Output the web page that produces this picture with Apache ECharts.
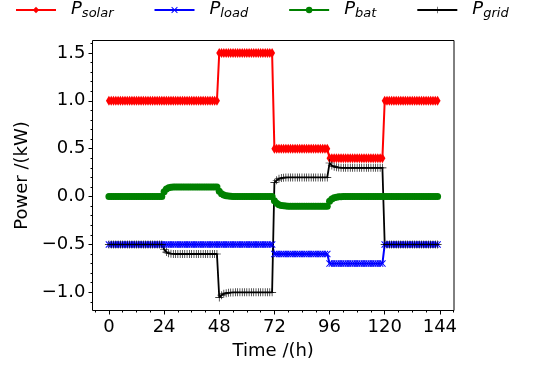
<!DOCTYPE html>
<html>
<head>
<meta charset="utf-8">
<script src="https://cdn.jsdelivr.net/npm/echarts@6/dist/echarts.min.js"></script>
<style>
  html, body { margin: 0; padding: 0; background: #fff; }
  #chart { width: 540px; height: 369px; }
</style>
</head>
<body>
<div id="chart"></div>
<script>
// Hourly power flows over six days (kW), one value per hour 0..143
const solar = [
  1.0,1.0,1.0,1.0,1.0,1.0,1.0,1.0,1.0,1.0,1.0,1.0,1.0,1.0,1.0,1.0,1.0,1.0,1.0,1.0,1.0,1.0,1.0,1.0,
  1.0,1.0,1.0,1.0,1.0,1.0,1.0,1.0,1.0,1.0,1.0,1.0,1.0,1.0,1.0,1.0,1.0,1.0,1.0,1.0,1.0,1.0,1.0,1.0,
  1.5,1.5,1.5,1.5,1.5,1.5,1.5,1.5,1.5,1.5,1.5,1.5,1.5,1.5,1.5,1.5,1.5,1.5,1.5,1.5,1.5,1.5,1.5,1.5,
  0.5,0.5,0.5,0.5,0.5,0.5,0.5,0.5,0.5,0.5,0.5,0.5,0.5,0.5,0.5,0.5,0.5,0.5,0.5,0.5,0.5,0.5,0.5,0.5,
  0.4,0.4,0.4,0.4,0.4,0.4,0.4,0.4,0.4,0.4,0.4,0.4,0.4,0.4,0.4,0.4,0.4,0.4,0.4,0.4,0.4,0.4,0.4,0.4,
  1.0,1.0,1.0,1.0,1.0,1.0,1.0,1.0,1.0,1.0,1.0,1.0,1.0,1.0,1.0,1.0,1.0,1.0,1.0,1.0,1.0,1.0,1.0,1.0
];
const load = [
  -0.5,-0.5,-0.5,-0.5,-0.5,-0.5,-0.5,-0.5,-0.5,-0.5,-0.5,-0.5,-0.5,-0.5,-0.5,-0.5,-0.5,-0.5,-0.5,-0.5,-0.5,-0.5,-0.5,-0.5,
  -0.5,-0.5,-0.5,-0.5,-0.5,-0.5,-0.5,-0.5,-0.5,-0.5,-0.5,-0.5,-0.5,-0.5,-0.5,-0.5,-0.5,-0.5,-0.5,-0.5,-0.5,-0.5,-0.5,-0.5,
  -0.5,-0.5,-0.5,-0.5,-0.5,-0.5,-0.5,-0.5,-0.5,-0.5,-0.5,-0.5,-0.5,-0.5,-0.5,-0.5,-0.5,-0.5,-0.5,-0.5,-0.5,-0.5,-0.5,-0.5,
  -0.6,-0.6,-0.6,-0.6,-0.6,-0.6,-0.6,-0.6,-0.6,-0.6,-0.6,-0.6,-0.6,-0.6,-0.6,-0.6,-0.6,-0.6,-0.6,-0.6,-0.6,-0.6,-0.6,-0.6,
  -0.7,-0.7,-0.7,-0.7,-0.7,-0.7,-0.7,-0.7,-0.7,-0.7,-0.7,-0.7,-0.7,-0.7,-0.7,-0.7,-0.7,-0.7,-0.7,-0.7,-0.7,-0.7,-0.7,-0.7,
  -0.5,-0.5,-0.5,-0.5,-0.5,-0.5,-0.5,-0.5,-0.5,-0.5,-0.5,-0.5,-0.5,-0.5,-0.5,-0.5,-0.5,-0.5,-0.5,-0.5,-0.5,-0.5,-0.5,-0.5
];
const bat = [
  0,0,0,0,0,0,0,0,0,0,0,0,0,0,0,0,0,0,0,0,0,0,0,0,
  0.05,0.08,0.092,0.097,0.099,0.1,0.1,0.1,0.1,0.1,0.1,0.1,0.1,0.1,0.1,0.1,0.1,0.1,0.1,0.1,0.1,0.1,0.1,0.1,
  0.055,0.03,0.016,0.009,0.005,0.003,0.001,0,0,0,0,0,0,0,0,0,0,0,0,0,0,0,0,0,
  -0.045,-0.07,-0.085,-0.093,-0.097,-0.099,-0.1,-0.1,-0.1,-0.1,-0.1,-0.1,-0.1,-0.1,-0.1,-0.1,-0.1,-0.1,-0.1,-0.1,-0.1,-0.1,-0.1,-0.1,
  -0.05,-0.025,-0.012,-0.006,-0.003,-0.001,0,0,0,0,0,0,0,0,0,0,0,0,0,0,0,0,0,0,
  0,0,0,0,0,0,0,0,0,0,0,0,0,0,0,0,0,0,0,0,0,0,0,0
];
const grid = [
  -0.5,-0.5,-0.5,-0.5,-0.5,-0.5,-0.5,-0.5,-0.5,-0.5,-0.5,-0.5,-0.5,-0.5,-0.5,-0.5,-0.5,-0.5,-0.5,-0.5,-0.5,-0.5,-0.5,-0.5,
  -0.55,-0.58,-0.592,-0.597,-0.599,-0.6,-0.6,-0.6,-0.6,-0.6,-0.6,-0.6,-0.6,-0.6,-0.6,-0.6,-0.6,-0.6,-0.6,-0.6,-0.6,-0.6,-0.6,-0.6,
  -1.055,-1.03,-1.016,-1.009,-1.005,-1.003,-1.001,-1.0,-1.0,-1.0,-1.0,-1.0,-1.0,-1.0,-1.0,-1.0,-1.0,-1.0,-1.0,-1.0,-1.0,-1.0,-1.0,-1.0,
  0.145,0.17,0.185,0.193,0.197,0.199,0.2,0.2,0.2,0.2,0.2,0.2,0.2,0.2,0.2,0.2,0.2,0.2,0.2,0.2,0.2,0.2,0.2,0.2,
  0.35,0.325,0.312,0.306,0.303,0.301,0.3,0.3,0.3,0.3,0.3,0.3,0.3,0.3,0.3,0.3,0.3,0.3,0.3,0.3,0.3,0.3,0.3,0.3,
  -0.5,-0.5,-0.5,-0.5,-0.5,-0.5,-0.5,-0.5,-0.5,-0.5,-0.5,-0.5,-0.5,-0.5,-0.5,-0.5,-0.5,-0.5,-0.5,-0.5,-0.5,-0.5,-0.5,-0.5
];

// Axis ticks
const xTicks = [0, 24, 48, 72, 96, 120, 144];
const xMinorTicks = [-6, 6, 12, 18, 30, 36, 42, 54, 60, 66, 78, 84, 90, 102, 108, 114, 126, 132, 138, 150];
const yTicks = [-1.0, -0.5, 0.0, 0.5, 1.0, 1.5];
const yMinorTicks = [-1.1, -0.9, -0.8, -0.7, -0.6, -0.4, -0.3, -0.2, -0.1, 0.1, 0.2, 0.3, 0.4,
                     0.6, 0.7, 0.8, 0.9, 1.1, 1.2, 1.3, 1.4, 1.6];

const seriesNames = ['P_solar', 'P_load', 'P_bat', 'P_grid'];
const subscripts = { P_solar: 'solar', P_load: 'load', P_bat: 'bat', P_grid: 'grid' };

const hours = solar.map((_, i) => i);
const pairs = vals => hours.map((h, i) => [h, vals[i]]);

const FONT = 'DejaVu Sans';
const X_MIN = -7.15, X_MAX = 150.15, Y_MIN = -1.19, Y_MAX = 1.63;

const xSymbol = 'path://M0,1 L1,0 L5,4 L9,0 L10,1 L6,5 L10,9 L9,10 L5,6 L1,10 L0,9 L4,5 Z';
const plusSymbol = 'path://M4.6,0 H5.4 V4.6 H10 V5.4 H5.4 V10 H4.6 V5.4 H0 V4.6 H4.6 Z';

const fmtNum = v => v.toFixed(1).replace('-', '\u2212');

const baseAxisText = { color: '#000', fontFamily: FONT, fontSize: 18 };
const hiddenLine = { show: false, onZero: false };

const chart = echarts.init(document.getElementById('chart'), null, { renderer: 'canvas' });
chart.setOption({
  animation: false,
  backgroundColor: '#fff',
  grid: {
    left: 92.5, right: 86, top: 40.5, bottom: 58.5,
    show: true, borderColor: '#000', borderWidth: 1, backgroundColor: 'transparent'
  },
  legend: {
    left: 15, top: 0, padding: 0,
    itemWidth: 40, itemHeight: 8, itemGap: 40,
    data: seriesNames,
    formatter: name => '{p|P}{s|' + subscripts[name] + '}',
    textStyle: {
      color: '#000',
      rich: {
        p: { fontFamily: FONT, fontStyle: 'italic', fontSize: 18, lineHeight: 20, padding: [0, 0, 0, 10], verticalAlign: 'top' },
        s: { fontFamily: FONT, fontStyle: 'italic', fontSize: 13, lineHeight: 14, padding: [7, 0, 0, 0], verticalAlign: 'top' }
      }
    }
  },
  xAxis: [
    {
      type: 'value', min: X_MIN, max: X_MAX, position: 'bottom',
      name: 'Time /(h)', nameLocation: 'middle', nameGap: 32,
      nameTextStyle: baseAxisText,
      axisLine: hiddenLine,
      axisTick: { show: true, inside: false, length: 4, customValues: xTicks, lineStyle: { color: '#000', width: 1 } },
      axisLabel: { show: true, margin: 8, customValues: xTicks, formatter: v => String(v), ...baseAxisText },
      splitLine: { show: false }
    },
    {
      type: 'value', min: X_MIN, max: X_MAX, position: 'bottom',
      axisLine: hiddenLine,
      axisTick: { show: true, inside: false, length: 2, customValues: xMinorTicks, lineStyle: { color: '#000', width: 1 } },
      axisLabel: { show: false },
      splitLine: { show: false }
    }
  ],
  yAxis: [
    {
      type: 'value', min: Y_MIN, max: Y_MAX, position: 'left',
      name: 'Power /(kW)', nameLocation: 'middle', nameGap: 57,
      nameTextStyle: baseAxisText,
      axisLine: hiddenLine,
      axisTick: { show: true, inside: false, length: 4, customValues: yTicks, lineStyle: { color: '#000', width: 1 } },
      axisLabel: { show: true, margin: 7, customValues: yTicks, formatter: fmtNum, ...baseAxisText },
      splitLine: { show: false }
    },
    {
      type: 'value', min: Y_MIN, max: Y_MAX, position: 'left',
      axisLine: hiddenLine,
      axisTick: { show: true, inside: false, length: 2, customValues: yMinorTicks, lineStyle: { color: '#000', width: 1 } },
      axisLabel: { show: false },
      splitLine: { show: false }
    }
  ],
  series: [
    {
      name: 'P_solar', type: 'line', data: pairs(solar),
      color: '#ff0000', symbol: 'diamond', symbolSize: [6, 10],
      lineStyle: { width: 2, color: '#ff0000' }, itemStyle: { color: '#ff0000' }
    },
    {
      name: 'P_load', type: 'line', data: pairs(load),
      color: '#0000ff', symbol: xSymbol, symbolSize: 7,
      lineStyle: { width: 2, color: '#0000ff' }, itemStyle: { color: '#0000ff' }
    },
    {
      name: 'P_bat', type: 'line', data: pairs(bat),
      color: '#008000', symbol: 'circle', symbolSize: 7,
      lineStyle: { width: 2, color: '#008000' }, itemStyle: { color: '#008000' }
    },
    {
      name: 'P_grid', type: 'line', data: pairs(grid),
      color: '#000000', symbol: plusSymbol, symbolSize: 8,
      lineStyle: { width: 1.8, color: '#000000' }, itemStyle: { color: '#000000' }
    }
  ]
});
</script>
</body>
</html>
